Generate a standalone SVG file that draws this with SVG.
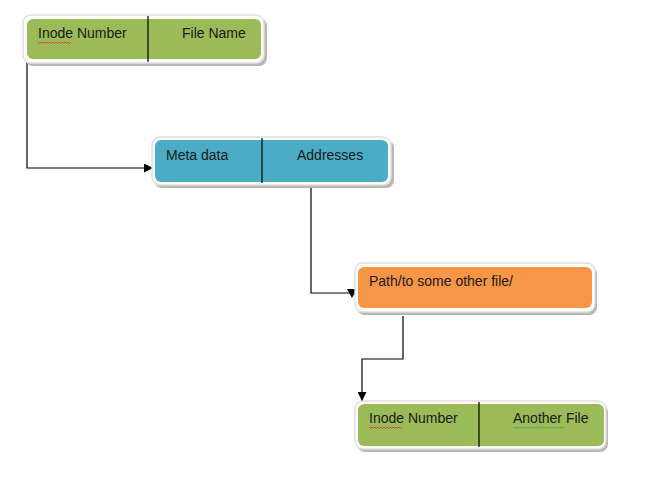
<svg xmlns="http://www.w3.org/2000/svg" width="658" height="487" viewBox="0 0 658 487">
<defs>
<marker id="arr" viewBox="0 0 10 10" refX="10" refY="5" markerWidth="9" markerHeight="9" markerUnits="userSpaceOnUse" orient="auto"><path d="M0,0 L10,5 L0,10 z" fill="#000"/></marker>
</defs>
<style>
.frame{fill:#fff;stroke:#e0e0e0;stroke-width:1.5}
.shadow{fill:#b8b8b0}
.green{fill:#9bbb59}
.blue{fill:#4bacc6}
.orange{fill:#f79646}
.div{stroke:#000;stroke-width:1.2}
.t{font-family:"Liberation Sans",Arial,sans-serif;font-size:14px;fill:#1a1a1a}
.conn{fill:none;stroke:#000;stroke-width:1.2}
.sq{fill:none;stroke-width:0.8}
</style>
<rect width="658" height="487" fill="#fff"/>
<g id="connectors">
<path class="conn" d="M27,62 V168 H153" marker-end="url(#arr)"/>
<path class="conn" d="M311,184 V293 H356"/>
<path d="M347,289 L357,289 L352,298 z" fill="#000"/>
<path class="conn" d="M403,316 V359 H362 V401" marker-end="url(#arr)"/>
</g>
<g id="node1">
<rect class="shadow" x="25" y="18" width="242" height="48" rx="8"/>
<rect class="frame" x="23" y="15" width="241" height="48" rx="8"/>
<rect class="green" x="27" y="19" width="234" height="40" rx="6"/>
<line class="div" x1="148" y1="16" x2="148" y2="62"/>
<text class="t" x="38" y="38">Inode Number</text>
<text class="t" x="182" y="38">File Name</text>
<path class="sq" stroke="#e03030" d="M38,42 l1.5,1.5 l1.5,-1.5 l1.5,1.5 l1.5,-1.5 l1.5,1.5 l1.5,-1.5 l1.5,1.5 l1.5,-1.5 l1.5,1.5 l1.5,-1.5 l1.5,1.5 l1.5,-1.5 l1.5,1.5 l1.5,-1.5 l1.5,1.5 l1.5,-1.5 l1.5,1.5 l1.5,-1.5 l1.5,1.5 l1.5,-1.5 l1.5,1.5 l1.5,-1.5"/>
</g>
<g id="node2">
<rect class="shadow" x="154" y="140" width="240" height="48" rx="8"/>
<rect class="frame" x="152" y="137" width="239" height="48" rx="8"/>
<rect class="blue" x="155" y="140" width="233" height="42" rx="6"/>
<line class="div" x1="262" y1="138" x2="262" y2="183"/>
<text class="t" x="166" y="160">Meta data</text>
<text class="t" x="297" y="160">Addresses</text>
</g>
<g id="node3">
<rect class="shadow" x="357" y="266" width="240" height="49" rx="8"/>
<rect class="frame" x="355" y="263" width="240" height="49" rx="8"/>
<rect class="orange" x="358" y="267" width="234" height="41" rx="6"/>
<text class="t" x="369" y="286">Path/to some other file/</text>
</g>
<g id="node4">
<rect class="shadow" x="357" y="404" width="251" height="48" rx="8"/>
<rect class="frame" x="355" y="401" width="251" height="48" rx="8"/>
<rect class="green" x="358" y="404" width="246" height="42" rx="6"/>
<line class="div" x1="479" y1="402" x2="479" y2="447"/>
<text class="t" x="369" y="423">Inode Number</text>
<text class="t" x="513" y="423">Another File</text>
<path class="sq" stroke="#e03030" d="M369,427 l1.5,1.5 l1.5,-1.5 l1.5,1.5 l1.5,-1.5 l1.5,1.5 l1.5,-1.5 l1.5,1.5 l1.5,-1.5 l1.5,1.5 l1.5,-1.5 l1.5,1.5 l1.5,-1.5 l1.5,1.5 l1.5,-1.5 l1.5,1.5 l1.5,-1.5 l1.5,1.5 l1.5,-1.5 l1.5,1.5 l1.5,-1.5 l1.5,1.5 l1.5,-1.5"/>
<path class="sq" stroke="#40a040" d="M513,427 l1.5,1.5 l1.5,-1.5 l1.5,1.5 l1.5,-1.5 l1.5,1.5 l1.5,-1.5 l1.5,1.5 l1.5,-1.5 l1.5,1.5 l1.5,-1.5 l1.5,1.5 l1.5,-1.5 l1.5,1.5 l1.5,-1.5 l1.5,1.5 l1.5,-1.5 l1.5,1.5 l1.5,-1.5 l1.5,1.5 l1.5,-1.5 l1.5,1.5 l1.5,-1.5 l1.5,1.5 l1.5,-1.5 l1.5,1.5 l1.5,-1.5 l1.5,1.5 l1.5,-1.5 l1.5,1.5 l1.5,-1.5 l1.5,1.5 l1.5,-1.5 l1.5,1.5 l1.5,-1.5"/>
</g>
</svg>
